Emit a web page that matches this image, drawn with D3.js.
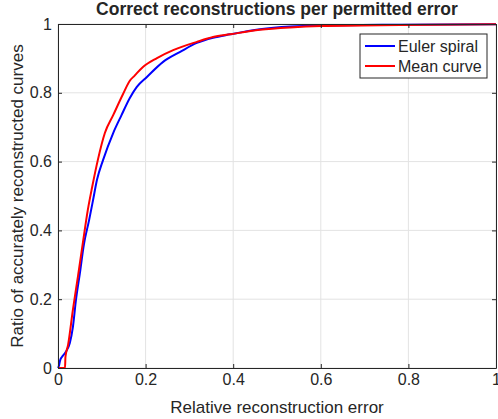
<!DOCTYPE html>
<html>
<head>
<meta charset="utf-8">
<script src="https://cdn.jsdelivr.net/npm/d3@7"></script>
<style>
  body { margin: 0; background: #fff; }
  text { font-family: "Liberation Sans", Arial, sans-serif; fill: #262626; }
</style>
</head>
<body>
<div id="chart"></div>
<script>
// Curve data: [relative error, ratio]
const eulerSpiral = [[0,0],[0.002,0.006],[0.005,0.023],[0.009,0.032],[0.018,0.047],[0.027,0.073],
  [0.034,0.119],[0.041,0.198],[0.050,0.276],[0.059,0.358],[0.071,0.430],[0.080,0.488],[0.089,0.547],
  [0.103,0.605],[0.126,0.683],[0.145,0.735],[0.164,0.785],[0.180,0.817],[0.203,0.846],[0.240,0.890],
  [0.279,0.919],[0.317,0.945],[0.354,0.960],[0.393,0.970],[0.461,0.985],[0.53,0.993],[0.6,0.996],
  [0.78,0.998],[1.0,0.999]];
const meanCurve = [[0,0],[0.016,0],[0.017,0.032],[0.023,0.067],[0.034,0.169],[0.046,0.270],
  [0.057,0.366],[0.068,0.459],[0.078,0.526],[0.091,0.605],[0.107,0.683],[0.126,0.735],[0.148,0.795],
  [0.164,0.835],[0.175,0.850],[0.194,0.875],[0.226,0.901],[0.263,0.924],[0.317,0.948],[0.354,0.962],
  [0.393,0.970],[0.461,0.983],[0.53,0.990],[0.6,0.994],[0.78,0.997],[1.0,0.999]];
const seriesNames = ["Euler spiral", "Mean curve"];
const seriesColors = ["#0000ff", "#ff0000"];
const xTicks = [0, 0.2, 0.4, 0.6, 0.8, 1];
const yTicks = [0, 0.2, 0.4, 0.6, 0.8, 1];

const W = 498, H = 419;
const margins = { top: 24, right: 2, bottom: 51, left: 58 };
const cw = W - margins.left - margins.right;
const ch = H - margins.top - margins.bottom;

const svg = d3.select("#chart").append("svg")
  .attr("width", W).attr("height", H);

const x = d3.scaleLinear().domain([0, 1]).range([0, cw]);
const y = d3.scaleLinear().domain([0, 1]).range([ch, 0]);

const g = svg.append("g")
  .attr("transform", "translate(" + margins.left + "," + margins.top + ")");

// grid
g.append("g").selectAll("line").data(xTicks).join("line")
  .attr("x1", d => x(d)).attr("x2", d => x(d))
  .attr("y1", 0).attr("y2", ch)
  .attr("stroke", "#e3e3e3").attr("stroke-width", 1);
g.append("g").selectAll("line").data(yTicks).join("line")
  .attr("x1", 0).attr("x2", cw)
  .attr("y1", d => y(d)).attr("y2", d => y(d))
  .attr("stroke", "#e3e3e3").attr("stroke-width", 1);

// curves
const line = d3.line().x(d => x(d[0])).y(d => y(d[1])).curve(d3.curveMonotoneX);
[eulerSpiral, meanCurve].forEach((s, i) => {
  g.append("path").datum(s)
    .attr("d", line)
    .attr("fill", "none")
    .attr("stroke", seriesColors[i])
    .attr("stroke-width", 2)
    .attr("stroke-linejoin", "round");
});

// axes (inner ticks, box)
const fmt = d => d === 0 ? "0" : d === 1 ? "1" : d3.format(".1f")(d);
const axB = g.append("g").attr("transform", "translate(0," + ch + ")")
  .call(d3.axisBottom(x).tickValues(xTicks).tickFormat(fmt).tickSizeInner(-4).tickSizeOuter(0).tickPadding(6));
const axL = g.append("g")
  .call(d3.axisLeft(y).tickValues(yTicks).tickFormat(fmt).tickSizeInner(-4).tickSizeOuter(0).tickPadding(6));
const axT = g.append("g")
  .call(d3.axisTop(x).tickValues(xTicks).tickFormat("").tickSizeInner(-4).tickSizeOuter(0));
const axR = g.append("g").attr("transform", "translate(" + cw + ",0)")
  .call(d3.axisRight(y).tickValues(yTicks).tickFormat("").tickSizeInner(-4).tickSizeOuter(0));
[axB, axL, axT, axR].forEach(a => {
  a.selectAll("path, line").attr("stroke", "#262626");
  a.selectAll("text").attr("font-size", 16).attr("fill", "#262626")
    .attr("font-family", "'Liberation Sans', Arial, sans-serif");
});

// title and labels
svg.append("text")
  .attr("x", margins.left + cw / 2).attr("y", 15)
  .attr("text-anchor", "middle")
  .attr("font-size", 17.5).attr("font-weight", "bold")
  .attr("fill", "#000")
  .text("Correct reconstructions per permitted error");
svg.append("text")
  .attr("x", margins.left + cw / 2).attr("y", 413)
  .attr("text-anchor", "middle")
  .attr("font-size", 17)
  .text("Relative reconstruction error");
svg.append("text")
  .attr("transform", "translate(23," + (margins.top + ch / 2) + ") rotate(-90)")
  .attr("text-anchor", "middle")
  .attr("font-size", 17)
  .text("Ratio of accurately reconstructed curves");

// legend
const lg = svg.append("g").attr("transform", "translate(360,34)");
lg.append("rect")
  .attr("width", 127).attr("height", 44)
  .attr("fill", "#fff").attr("stroke", "#262626").attr("stroke-width", 1);
seriesNames.forEach((name, i) => {
  lg.append("line")
    .attr("x1", 5).attr("x2", 35)
    .attr("y1", 12 + i * 20).attr("y2", 12 + i * 20)
    .attr("stroke", seriesColors[i]).attr("stroke-width", 2);
  lg.append("text")
    .attr("x", 38).attr("y", 17.5 + i * 20)
    .attr("font-size", 16)
    .text(name);
});
</script>
</body>
</html>
